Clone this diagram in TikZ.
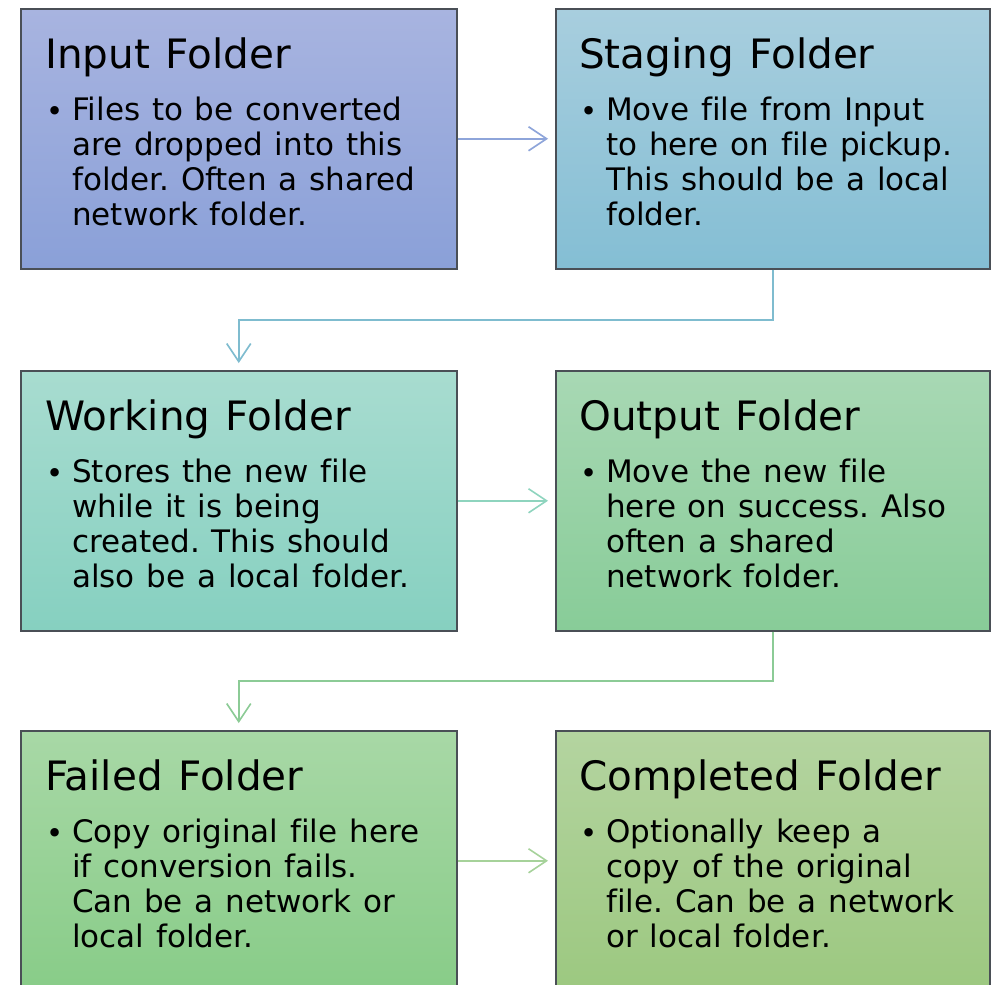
\documentclass[tikz,border=0pt]{standalone}
\usepackage{fontspec}
\setmainfont[WordSpace=1.2,Ligatures=NoCommon]{DejaVu Sans}
\usetikzlibrary{arrows.meta,calc}
\frenchspacing

% box fill gradients (top / bottom)
\definecolor{inTop}{HTML}{A8B4E0}\definecolor{inBot}{HTML}{8AA0D8}
\definecolor{stTop}{HTML}{A8CEDE}\definecolor{stBot}{HTML}{84BED4}
\definecolor{wkTop}{HTML}{A8DCD0}\definecolor{wkBot}{HTML}{86D0C0}
\definecolor{ouTop}{HTML}{A8D8B4}\definecolor{ouBot}{HTML}{88CC98}
\definecolor{faTop}{HTML}{A8D8A6}\definecolor{faBot}{HTML}{88CC88}
\definecolor{coTop}{HTML}{B4D4A0}\definecolor{coBot}{HTML}{9CC880}
\definecolor{boxline}{HTML}{4A4F56}
% connector colours
\definecolor{arA}{HTML}{8EA5DA}
\definecolor{arB}{HTML}{7FBCCF}
\definecolor{arC}{HTML}{8ED4BE}
\definecolor{arD}{HTML}{8CCB96}
\definecolor{arE}{HTML}{A6D29A}

\begin{document}
\begin{tikzpicture}[x=1pt,y=-1pt,
  folder/.style={draw=boxline, line width=1.5pt, rectangle, anchor=north west,
    minimum width=436pt, minimum height=260pt, inner sep=0pt},
  rightfolder/.style={folder, minimum width=434pt},
  heading/.style={anchor=base west, inner sep=0pt, font=\fontsize{40.5}{41}\selectfont},
  bodytext/.style={anchor=north west, inner sep=0pt, align=left,
    font=\fontsize{31}{35}\selectfont},
  bulletmark/.style={anchor=base west, inner sep=0pt, font=\fontsize{29}{35}\selectfont},
  flow/.style={line width=1.6pt, -{Straight Barb[length=18pt,width=24pt,line width=1.6pt]},
    shorten >=7pt},
]
\useasboundingbox (0,0) rectangle (991,985);

% ---- boxes ----
\node[folder, top color=inTop, bottom color=inBot] (input)          at (20,8)    {};
\node[rightfolder, top color=stTop, bottom color=stBot] (staging)   at (555,8)   {};
\node[folder, top color=wkTop, bottom color=wkBot] (working)        at (20,370)  {};
\node[rightfolder, top color=ouTop, bottom color=ouBot] (output)    at (555,370) {};
\node[folder, top color=faTop, bottom color=faBot] (failed)         at (20,730)  {};
\node[rightfolder, top color=coTop, bottom color=coBot] (completed) at (555,730) {};

% ---- texts ----
\node[heading] (inputT) at (45,68) {Input Folder};
\node[bulletmark] (inputB) at (46,121) {•};
\node[bodytext] (inputX) at (72,97) {Files to be converted\\are dropped into this\\folder. Often a shared\\network folder.};

\node[heading] (stagingT) at (579,68) {Staging Folder};
\node[bulletmark] (stagingB) at (580,121) {•};
\node[bodytext] (stagingX) at (606,97) {Move file from Input\\to here on file pickup.\\This should be a local\\folder.};

\node[heading] (workingT) at (45,430) {Working Folder};
\node[bulletmark] (workingB) at (46,483) {•};
\node[bodytext] (workingX) at (72,459) {Stores the new file\\while it is being\\created. This should\\also be a local folder.};

\node[heading] (outputT) at (579,430) {Output Folder};
\node[bulletmark] (outputB) at (580,483) {•};
\node[bodytext] (outputX) at (606,459) {Move the new file\\here on success. Also\\often a shared\\network folder.};

\node[heading] (failedT) at (45,790) {Failed Folder};
\node[bulletmark] (failedB) at (46,843) {•};
\node[bodytext] (failedX) at (72,819) {Copy original file here\\if conversion fails.\\Can be a network or\\local folder.};

\node[heading] (completedT) at (579,790) {Completed Folder};
\node[bulletmark] (completedB) at (580,843) {•};
\node[bodytext] (completedX) at (606,819) {Optionally keep a\\copy of the original\\file. Can be a network\\or local folder.};

% ---- connectors ----
\draw[flow, draw=arA] (input) -- (input -| staging.west);
\coordinate (bendA) at ($(staging.south)!0.5!(staging.south |- working.north)$);
\draw[flow, draw=arB] (staging.south) -- (bendA) -| (working.north);
\draw[flow, draw=arC] (working) -- (working -| output.west);
\coordinate (bendB) at ($(output.south)!0.5!(output.south |- failed.north)$);
\draw[flow, draw=arD] (output.south) -- (bendB) -| (failed.north);
\draw[flow, draw=arE] (failed.east |- completed.center) -- (completed);
\end{tikzpicture}
\end{document}
